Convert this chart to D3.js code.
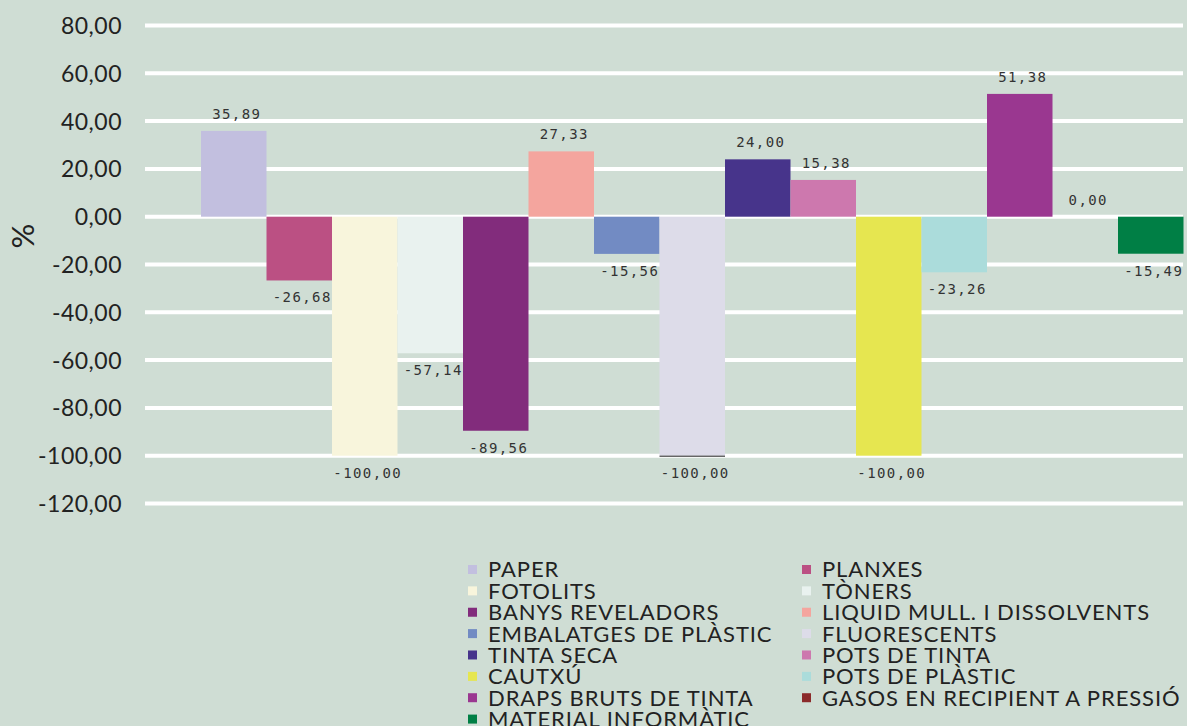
<!DOCTYPE html>
<html><head><meta charset="utf-8">
<script src="https://cdn.jsdelivr.net/npm/d3@7"></script>
<style>
html,body{margin:0;padding:0;background:#cfddd4;}
svg{display:block;}
</style></head>
<body>
<svg id="chart" width="1187" height="726"></svg>
<script>
const categories = ["PAPER","PLANXES","FOTOLITS","TÒNERS","BANYS REVELADORS","LIQUID MULL. I DISSOLVENTS","EMBALATGES DE PLÀSTIC","FLUORESCENTS","TINTA SECA","POTS DE TINTA","CAUTXÚ","POTS DE PLÀSTIC","DRAPS BRUTS DE TINTA","GASOS EN RECIPIENT A PRESSIÓ","MATERIAL INFORMÀTIC"];
const values = [35.89,-26.68,-100.00,-57.14,-89.56,27.33,-15.56,-100.00,24.00,15.38,-100.00,-23.26,51.38,0.00,-15.49];
const colors = ["#c2bfdf","#bb5083","#f8f5dc","#e9f2ef","#822c7c","#f4a59e","#728bc3","#dddce9","#47348b","#cd78ae","#e6e650","#abdcdb","#9a3790","#8b2a2a","#007f45"];
const yTicks = [80,60,40,20,0,-20,-40,-60,-80,-100,-120];

const svg = d3.select("#chart");
const fmt = v => v.toFixed(2).replace(".", ",");

const y = d3.scaleLinear().domain([-120, 80]).range([503.5, 25.5]);
const x = d3.scaleBand().domain(categories).range([201, 1183.5]).padding(0);
const gridX0 = 145, gridX1 = 1183;

// grid lines
svg.append("g").selectAll("line").data(yTicks).join("line")
  .attr("x1", gridX0).attr("x2", gridX1)
  .attr("y1", d => y(d)).attr("y2", d => y(d))
  .attr("stroke", "#ffffff").attr("stroke-width", 4);

// y axis labels
const yAxis = d3.axisLeft(y).tickValues(yTicks).tickSize(0).tickPadding(0)
  .tickFormat(d => fmt(d));
const ga = svg.append("g").attr("transform", "translate(122,0)").call(yAxis);
ga.select(".domain").remove();
ga.selectAll("text").attr("font-family", "Lato, 'Open Sans', sans-serif")
  .attr("font-size", 23).attr("fill", "#222").attr("dy", "0.35em")
  .attr("letter-spacing", 0.5);

svg.append("text").attr("transform", "translate(34,236) rotate(-90)")
  .attr("text-anchor", "middle").attr("font-family", "Lato, sans-serif")
  .attr("font-size", 31).attr("fill", "#222").text("%");

// bars
svg.append("g").selectAll("rect").data(values).join("rect")
  .attr("x", (d, i) => x(categories[i]))
  .attr("width", x.bandwidth())
  .attr("y", d => y(Math.max(0, d)))
  .attr("height", d => Math.abs(y(d) - y(0)))
  .attr("fill", (d, i) => colors[i]);

// thin dark edge at the bottom of the FLUORESCENTS bar
const fi = categories.indexOf("FLUORESCENTS");
svg.append("line")
  .attr("x1", x(categories[fi])).attr("x2", x(categories[fi]) + x.bandwidth())
  .attr("y1", y(values[fi]) + 0.5).attr("y2", y(values[fi]) + 0.5)
  .attr("stroke", "#222").attr("stroke-width", 1);

// data labels
svg.append("g").selectAll("text").data(values).join("text")
  .attr("x", (d, i) => x(categories[i]) + x.bandwidth() / 2 + 3)
  .attr("y", d => d >= 0 ? y(d) - 12 : y(d) + 22)
  .attr("text-anchor", "middle")
  .attr("font-family", "'DejaVu Sans Mono', 'Liberation Mono', monospace")
  .attr("font-size", 14).attr("letter-spacing", 1.4).attr("fill", "#333")
  .text(d => fmt(d));

// legend
const leg = svg.append("g");
const legItems = leg.selectAll("g").data(categories).join("g")
  .attr("transform", (d, i) => `translate(${i % 2 === 0 ? 468 : 802},${569.5 + Math.floor(i / 2) * 21.37})`);
legItems.append("rect").attr("x", 0).attr("y", -4.5).attr("width", 9).attr("height", 9)
  .attr("fill", (d, i) => colors[i]);
legItems.append("text").attr("x", 20).attr("dy", "0.36em")
  .attr("font-family", "Lato, sans-serif").attr("font-size", 22).attr("fill", "#222")
  .attr("letter-spacing", 0.9)
  .text(d => d);
</script>
</body></html>
